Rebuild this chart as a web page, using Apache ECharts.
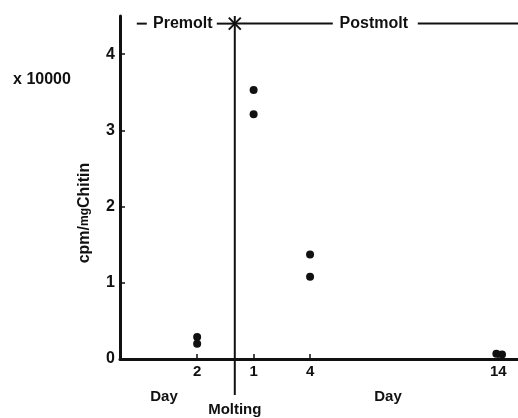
<!DOCTYPE html>
<html><head><meta charset="utf-8">
<script src="https://cdn.jsdelivr.net/npm/echarts@6/dist/echarts.min.js"></script>
<style>html,body{margin:0;padding:0;background:#fff}#c{width:518px;height:418px}</style>
</head><body><div id="c"></div>
<script>
const premoltDays = [-2, -2];
const premoltValues = [0.29, 0.20];
const postmoltDays = [1, 1, 4, 4, 13.9, 14.2];
const postmoltValues = [3.53, 3.21, 1.37, 1.08, 0.07, 0.06];
const xTickValues = [-2, 1, 4, 14];
const xTickLabels = ['2', '1', '4', '14'];
const yTickValues = [0, 1, 2, 3, 4];
const moltingDay = 0;
const bandLevel = 4.4;
const phaseLabels = ['Premolt', 'Postmolt'];
const yScaleLabel = 'x 10000';

const FONT = "'Liberation Sans', Arial, sans-serif";
const INK = '#111';

const pts = (xs, ys) => xs.map((x, i) => [x, ys[i]]);

const option = {
  animation: false,
  backgroundColor: '#fff',
  grid: { left: 120, right: 0, top: 16, bottom: 59 },
  xAxis: {
    type: 'value', min: -6.1, max: 15.05,
    splitLine: { show: false },
    axisLine: { onZero: false, lineStyle: { color: INK, width: 3 } },
    axisTick: { inside: true, length: 5, lineStyle: { color: INK, width: 1.5 }, customValues: xTickValues },
    axisLabel: {
      customValues: xTickValues, margin: 5,
      color: INK, fontFamily: FONT, fontWeight: 'bold', fontSize: 15,
      formatter: v => xTickLabels[xTickValues.indexOf(v)] ?? ''
    }
  },
  yAxis: {
    type: 'value', min: 0, max: 4.5,
    splitLine: { show: false },
    axisLine: { show: true, onZero: false, lineStyle: { color: INK, width: 3 } },
    axisTick: { show: true, inside: true, length: 5, lineStyle: { color: INK, width: 1.5 }, customValues: yTickValues },
    axisLabel: {
      customValues: yTickValues, margin: 5,
      color: INK, fontFamily: FONT, fontWeight: 'bold', fontSize: 16
    }
  },
  series: [
    { type: 'scatter', data: pts(premoltDays, premoltValues), symbolSize: 8, itemStyle: { color: INK, opacity: 1 } },
    { type: 'scatter', data: pts(postmoltDays, postmoltValues), symbolSize: 8, itemStyle: { color: INK, opacity: 1 } }
  ]
};

const chart = echarts.init(document.getElementById('c'), null, { renderer: 'canvas' });
chart.setOption(option);

const [mx, yTop] = chart.convertToPixel({ gridIndex: 0 }, [moltingDay, 4.5]);
const [, yb] = chart.convertToPixel({ gridIndex: 0 }, [moltingDay, bandLevel]);
const ln = (x1, y1, x2, y2, w) => ({ type: 'line', shape: { x1, y1, x2, y2 }, style: { stroke: INK, lineWidth: w || 2 }, z: 10 });
const txt = (x, y, t, size) => ({ type: 'text', x, y, style: { text: t, fill: INK, font: `bold ${size || 15}px ${FONT}`, textAlign: 'center', textVerticalAlign: 'middle' }, z: 10 });

chart.setOption({
  graphic: [
    ln(mx, yTop, mx, 395, 2),
    ln(mx - 6, yb - 6, mx + 6, yb + 6, 2),
    ln(mx - 6, yb + 6, mx + 6, yb - 6, 2),
    ln(mx - 98, yb, mx - 88, yb, 2),
    ln(mx - 18, yb, mx, yb, 2),
    ln(mx, yb, mx + 98, yb, 2),
    ln(mx + 183, yb, 518, yb, 2),
    txt(mx - 52, yb, phaseLabels[0], 16),
    txt(mx + 139, yb, phaseLabels[1], 16),
    txt(42, 80, yScaleLabel, 16),
    txt(164, 397, 'Day', 15),
    txt(388, 397, 'Day', 15),
    txt(mx, 410, 'Molting', 15),
    {
      type: 'text', x: 85, y: 213, rotation: Math.PI / 2, z: 10,
      style: {
        text: '{a|cpm/}{b|mg}{a|Chitin}', align: 'center', verticalAlign: 'middle',
        rich: {
          a: { fontFamily: FONT, fontWeight: 'bold', fontSize: 16, fill: INK },
          b: { fontFamily: FONT, fontWeight: 'bold', fontSize: 12, fill: INK }
        }
      }
    }
  ]
});
</script></body></html>
